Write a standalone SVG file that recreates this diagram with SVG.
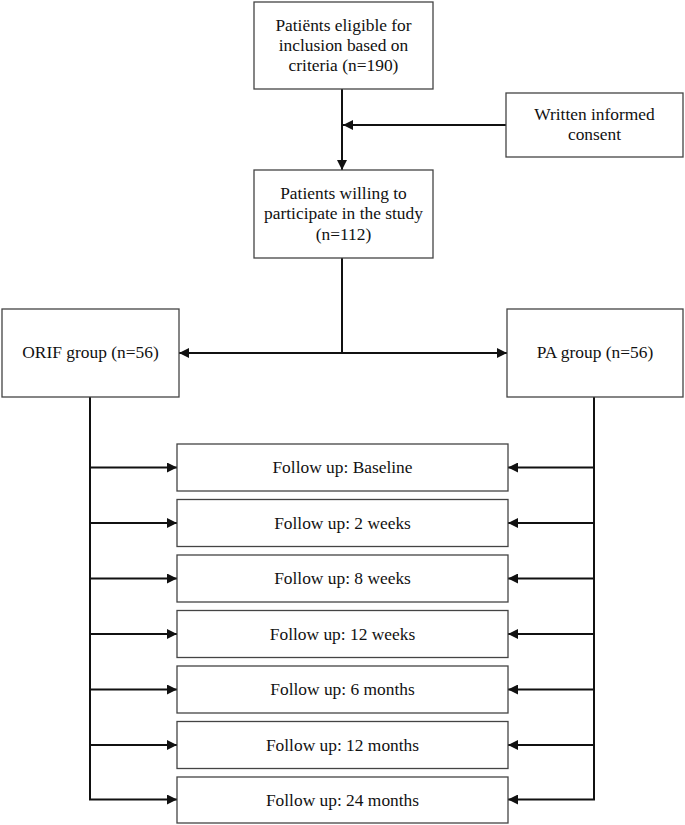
<svg xmlns="http://www.w3.org/2000/svg" width="685" height="825" viewBox="0 0 685 825">
<defs>
<style>
.box{fill:#fff;stroke:#444;stroke-width:1.3}
.t{font-family:"Liberation Serif","Times New Roman",serif;font-size:17.4px;fill:#111;text-anchor:middle}
.c{fill:none;stroke:#111;stroke-width:2}
</style>
<marker id="ah" viewBox="0 0 10 10" refX="10" refY="5" markerWidth="10" markerHeight="10" markerUnits="userSpaceOnUse" orient="auto">
<path d="M0,0 L10,5 L0,10 Z" fill="#111"/>
</marker>
</defs>
<rect width="685" height="825" fill="#fff"/>
<g id="connectors">
<line class="c" x1="342" y1="89" x2="342" y2="170" marker-end="url(#ah)"/>
<line class="c" x1="506" y1="125" x2="343" y2="125" marker-end="url(#ah)"/>
<line class="c" x1="342" y1="258" x2="342" y2="353"/>
<line class="c" x1="342" y1="353" x2="179" y2="353" marker-end="url(#ah)"/>
<line class="c" x1="342" y1="353" x2="507" y2="353" marker-end="url(#ah)"/>
<polyline class="c" points="90,397 90,799.5 177,799.5" marker-end="url(#ah)"/>
<line class="c" x1="90" y1="467.5" x2="177" y2="467.5" marker-end="url(#ah)"/>
<line class="c" x1="90" y1="523" x2="177" y2="523" marker-end="url(#ah)"/>
<line class="c" x1="90" y1="578.5" x2="177" y2="578.5" marker-end="url(#ah)"/>
<line class="c" x1="90" y1="634" x2="177" y2="634" marker-end="url(#ah)"/>
<line class="c" x1="90" y1="689.5" x2="177" y2="689.5" marker-end="url(#ah)"/>
<line class="c" x1="90" y1="745" x2="177" y2="745" marker-end="url(#ah)"/>
<polyline class="c" points="594,397 594,799.5 508,799.5" marker-end="url(#ah)"/>
<line class="c" x1="594" y1="467.5" x2="508" y2="467.5" marker-end="url(#ah)"/>
<line class="c" x1="594" y1="523" x2="508" y2="523" marker-end="url(#ah)"/>
<line class="c" x1="594" y1="578.5" x2="508" y2="578.5" marker-end="url(#ah)"/>
<line class="c" x1="594" y1="634" x2="508" y2="634" marker-end="url(#ah)"/>
<line class="c" x1="594" y1="689.5" x2="508" y2="689.5" marker-end="url(#ah)"/>
<line class="c" x1="594" y1="745" x2="508" y2="745" marker-end="url(#ah)"/>
</g>
<g id="eligible">
<rect class="box" x="254" y="2" width="179" height="87"/>
<text class="t" x="343.5" y="31">Patiënts eligible for</text>
<text class="t" x="343.5" y="51">inclusion based on</text>
<text class="t" x="343.5" y="71">criteria (n=190)</text>
</g>
<g id="consent">
<rect class="box" x="506" y="93" width="177" height="64"/>
<text class="t" x="594.5" y="120">Written informed</text>
<text class="t" x="594.5" y="140">consent</text>
</g>
<g id="willing">
<rect class="box" x="254" y="170" width="179" height="88"/>
<text class="t" x="343.5" y="199">Patients willing to</text>
<text class="t" x="343.5" y="219">participate in the study</text>
<text class="t" x="343.5" y="240">(n=112)</text>
</g>
<g id="orif">
<rect class="box" x="2" y="309" width="177" height="88"/>
<text class="t" x="90.5" y="358">ORIF group (n=56)</text>
</g>
<g id="pa">
<rect class="box" x="507" y="309" width="176" height="88"/>
<text class="t" x="595" y="358">PA group (n=56)</text>
</g>
<g id="fu-baseline">
<rect class="box" x="177" y="444" width="331" height="47"/>
<text class="t" x="342.5" y="473">Follow up: Baseline</text>
</g>
<g id="fu-2w">
<rect class="box" x="177" y="499.5" width="331" height="47"/>
<text class="t" x="342.5" y="528.5">Follow up: 2 weeks</text>
</g>
<g id="fu-8w">
<rect class="box" x="177" y="555" width="331" height="47"/>
<text class="t" x="342.5" y="584">Follow up: 8 weeks</text>
</g>
<g id="fu-12w">
<rect class="box" x="177" y="610.5" width="331" height="47"/>
<text class="t" x="342.5" y="639.5">Follow up: 12 weeks</text>
</g>
<g id="fu-6m">
<rect class="box" x="177" y="666" width="331" height="47"/>
<text class="t" x="342.5" y="695">Follow up: 6 months</text>
</g>
<g id="fu-12m">
<rect class="box" x="177" y="721.5" width="331" height="47"/>
<text class="t" x="342.5" y="750.5">Follow up: 12 months</text>
</g>
<g id="fu-24m">
<rect class="box" x="177" y="777" width="331" height="46"/>
<text class="t" x="342.5" y="806">Follow up: 24 months</text>
</g>
</svg>
